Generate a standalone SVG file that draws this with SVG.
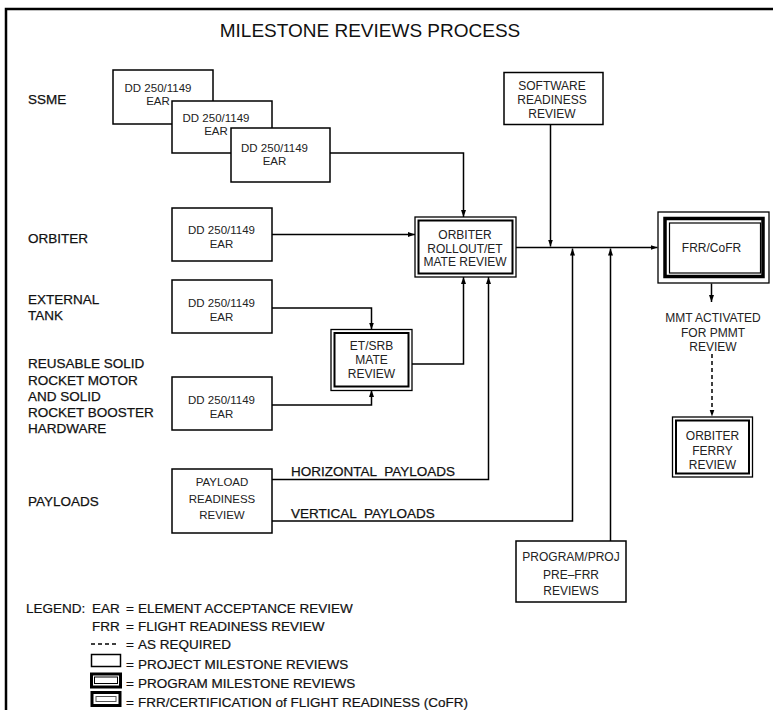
<svg xmlns="http://www.w3.org/2000/svg" width="773" height="710" viewBox="0 0 773 710">
<style>
text{font-family:"Liberation Sans",Arial,sans-serif;fill:#111}
.t{font-size:19px}
.lb{font-size:13.5px;stroke:#111;stroke-width:0.25}
.bx{font-size:11.5px;text-anchor:middle;fill:#222}
.bm{font-size:12px;text-anchor:middle;fill:#222}
.lg{font-size:13.5px;stroke:#111;stroke-width:0.2}
.box{fill:#fff;stroke:#000;stroke-width:1.5}
.o{fill:#fff;stroke:#000;stroke-width:1.3}
.i{fill:#fff;stroke:#000;stroke-width:2}
.c{fill:none;stroke:#000;stroke-width:1.5}
</style>
<defs>
<marker id="arr" markerUnits="userSpaceOnUse" markerWidth="7" markerHeight="6" refX="7" refY="3" orient="auto">
<path d="M0,0.5 L7,3 L0,5.5 z" fill="#000"/>
</marker>
</defs>
<rect width="773" height="710" fill="#fff"/>
<path d="M6,710 V9 H773" fill="none" stroke="#000" stroke-width="2.5"/>
<text class="t" x="370" y="37" text-anchor="middle">MILESTONE REVIEWS PROCESS</text>

<g id="labels">
<text class="lb" x="28" y="104">SSME</text>
<text class="lb" x="28" y="243">ORBITER</text>
<text class="lb" x="28" y="304">EXTERNAL</text>
<text class="lb" x="28" y="320">TANK</text>
<text class="lb" x="28" y="368">REUSABLE SOLID</text>
<text class="lb" x="28" y="384.5">ROCKET MOTOR</text>
<text class="lb" x="28" y="401">AND SOLID</text>
<text class="lb" x="28" y="417">ROCKET BOOSTER</text>
<text class="lb" x="28" y="433">HARDWARE</text>
<text class="lb" x="28" y="506">PAYLOADS</text>
</g>

<g id="connectors">
<path class="c" d="M330,153 H463.5 V217" marker-end="url(#arr)"/>
<path class="c" d="M272,234.5 H415" marker-end="url(#arr)"/>
<path class="c" d="M272,308 H371.5 V329.5" marker-end="url(#arr)"/>
<path class="c" d="M272,405 H371.5 V390" marker-end="url(#arr)"/>
<path class="c" d="M411.5,364 H463.5 V277" marker-end="url(#arr)"/>
<path class="c" d="M272,479.5 H488.5 V277" marker-end="url(#arr)"/>
<path class="c" d="M516,247.5 H657.5" marker-end="url(#arr)"/>
<path class="c" d="M550.5,124.5 V246.5" marker-end="url(#arr)"/>
<path class="c" d="M272,521 H572.5 V248.5" marker-end="url(#arr)"/>
<path class="c" d="M610.5,541 V248.5" marker-end="url(#arr)"/>
<path class="c" d="M711.5,283.5 V302" marker-end="url(#arr)"/>
<path class="c" d="M712,354 V416.5" stroke-dasharray="4,3" marker-end="url(#arr)"/>
<text class="lb" x="291" y="476" word-spacing="4">HORIZONTAL PAYLOADS</text>
<text class="lb" x="291" y="518" word-spacing="4">VERTICAL PAYLOADS</text>
</g>

<g id="ssme-ear-1">
<rect class="box" x="113" y="70" width="100" height="54"/>
<text class="bx" x="158" y="92">DD 250/1149</text>
<text class="bx" x="158" y="105">EAR</text>
</g>
<g id="ssme-ear-2">
<rect class="box" x="172" y="101" width="100" height="52"/>
<text class="bx" x="216" y="122">DD 250/1149</text>
<text class="bx" x="216" y="134.5">EAR</text>
</g>
<g id="ssme-ear-3">
<rect class="box" x="231" y="128" width="99" height="54"/>
<text class="bx" x="274.5" y="152">DD 250/1149</text>
<text class="bx" x="274.5" y="164.5">EAR</text>
</g>
<g id="orbiter-ear">
<rect class="box" x="172" y="208" width="100" height="53"/>
<text class="bx" x="221.5" y="234">DD 250/1149</text>
<text class="bx" x="221.5" y="248">EAR</text>
</g>
<g id="et-ear">
<rect class="box" x="172" y="280" width="100" height="53"/>
<text class="bx" x="221.5" y="307">DD 250/1149</text>
<text class="bx" x="221.5" y="321">EAR</text>
</g>
<g id="rsrm-ear">
<rect class="box" x="172" y="377" width="100" height="53"/>
<text class="bx" x="221.5" y="404">DD 250/1149</text>
<text class="bx" x="221.5" y="417.5">EAR</text>
</g>
<g id="payload-readiness">
<rect class="box" x="172" y="469" width="100" height="64"/>
<text class="bx" x="222" y="486">PAYLOAD</text>
<text class="bx" x="222" y="502.5">READINESS</text>
<text class="bx" x="222" y="519">REVIEW</text>
</g>
<g id="et-srb-mate">
<rect class="o" x="331" y="329.5" width="81" height="61"/>
<rect class="i" x="334.5" y="333" width="74" height="53.5"/>
<text class="bm" x="371.5" y="349.5">ET/SRB</text>
<text class="bm" x="371.5" y="363.5">MATE</text>
<text class="bm" x="371.5" y="377.5">REVIEW</text>
</g>
<g id="orbiter-rollout">
<rect class="o" x="415" y="217" width="101" height="60"/>
<rect class="i" x="418.5" y="220.5" width="94" height="53"/>
<text class="bm" x="465" y="238.5">ORBITER</text>
<text class="bm" x="465" y="252.5">ROLLOUT/ET</text>
<text class="bm" x="465" y="266">MATE REVIEW</text>
</g>
<g id="software-readiness">
<rect class="box" x="504" y="72.5" width="99" height="52"/>
<text class="bm" x="552" y="89.5">SOFTWARE</text>
<text class="bm" x="552" y="103.5">READINESS</text>
<text class="bm" x="552" y="117.5">REVIEW</text>
</g>
<g id="frr-cofr">
<rect class="o" x="658" y="212" width="111" height="71"/>
<rect fill="none" stroke="#000" stroke-width="3.5" x="665" y="218.5" width="98" height="58"/>
<rect fill="#fff" stroke="#000" stroke-width="1.2" x="669.5" y="223" width="91" height="50"/>
<text class="bm" x="711.5" y="252">FRR/CoFR</text>
</g>
<g id="mmt-note">
<text class="bm" x="713" y="322">MMT ACTIVATED</text>
<text class="bm" x="713" y="336.5">FOR PMMT</text>
<text class="bm" x="713" y="351">REVIEW</text>
</g>
<g id="orbiter-ferry">
<rect class="o" x="672.5" y="417" width="80" height="60"/>
<rect class="i" x="676" y="420.5" width="73" height="53"/>
<text class="bm" x="712.5" y="440">ORBITER</text>
<text class="bm" x="712.5" y="454.5">FERRY</text>
<text class="bm" x="712.5" y="468.5">REVIEW</text>
</g>
<g id="program-pre-frr">
<rect class="box" x="516" y="541" width="110" height="61"/>
<text class="bm" x="571" y="561">PROGRAM/PROJ</text>
<text class="bm" x="571" y="578.5">PRE–FRR</text>
<text class="bm" x="571" y="594.5">REVIEWS</text>
</g>

<g id="legend">
<text class="lg" x="26" y="613">LEGEND:</text>
<text class="lg" y="613"><tspan x="92">EAR</tspan><tspan x="126">=</tspan><tspan x="138">ELEMENT ACCEPTANCE REVIEW</tspan></text>
<text class="lg" y="631"><tspan x="92">FRR</tspan><tspan x="126">=</tspan><tspan x="138">FLIGHT READINESS REVIEW</tspan></text>
<line x1="91" y1="644" x2="118" y2="644" stroke="#000" stroke-width="1.5" stroke-dasharray="4,3"/>
<text class="lg" y="649"><tspan x="126">=</tspan><tspan x="138">AS REQUIRED</tspan></text>
<rect x="91.5" y="654.5" width="29" height="12" fill="#fff" stroke="#000" stroke-width="1.5"/>
<text class="lg" y="669"><tspan x="126">=</tspan><tspan x="138">PROJECT MILESTONE REVIEWS</tspan></text>
<rect x="91.5" y="674" width="29" height="13" fill="#fff" stroke="#000" stroke-width="3"/>
<rect x="94.5" y="677" width="23" height="6.5" fill="#fff" stroke="#000" stroke-width="1"/>
<text class="lg" y="687.5"><tspan x="126">=</tspan><tspan x="138">PROGRAM MILESTONE REVIEWS</tspan></text>
<rect x="90.5" y="691" width="31" height="16" fill="#000"/>
<rect x="93.5" y="694" width="25" height="10" fill="#fff"/>
<rect x="96" y="696.5" width="20" height="5" fill="#fff" stroke="#555" stroke-width="1"/>
<text class="lg" y="707"><tspan x="126">=</tspan><tspan x="138">FRR/CERTIFICATION of FLIGHT READINESS (CoFR)</tspan></text>
</g>
</svg>
